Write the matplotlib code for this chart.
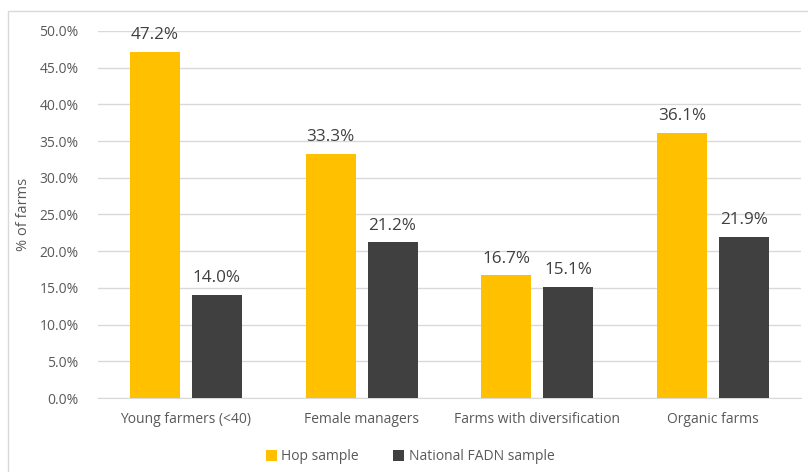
import numpy as np
import matplotlib
matplotlib.use("Agg")
import matplotlib.pyplot as plt
from matplotlib.patches import Rectangle

plt.rcParams["font.family"] = ["Open Sans", "DejaVu Sans"]

categories = ["Young farmers (<40)", "Female managers",
              "Farms with diversification", "Organic farms"]
hop_sample = [47.2, 33.3, 16.7, 36.1]
fadn_sample = [14.0, 21.2, 15.1, 21.9]
series_names = ["Hop sample", "National FADN sample"]
yticks = [0, 5, 10, 15, 20, 25, 30, 35, 40, 45, 50]

HOP = "#FFC000"
FADN = "#404040"
TXT = "#595959"

fig = plt.figure(figsize=(8.08, 4.72), dpi=100)
ax = fig.add_axes([98 / 808, 1 - 398 / 472, 703 / 808, 367 / 472])

x = np.arange(len(categories))
w = 0.285
off = 0.176
b1 = ax.bar(x - off, hop_sample, w, color=HOP, label=series_names[0], zorder=3)
b2 = ax.bar(x + off, fadn_sample, w, color=FADN, label=series_names[1], zorder=3)

for bars, vals in ((b1, hop_sample), (b2, fadn_sample)):
    for r, v in zip(bars, vals):
        ax.text(r.get_x() + r.get_width() / 2, v + 1.2, f"{v:.1f}%",
                ha="center", va="bottom", fontsize=12.3, color=FADN)

ax.set_xlim(-0.5, len(categories) - 0.5)
ax.set_ylim(0, 50)
ax.set_yticks(yticks)
ax.set_yticklabels([f"{t:.1f}%" for t in yticks])
ax.set_xticks(x)
ax.set_xticklabels(categories)
ax.tick_params(axis="both", length=0, colors=TXT, labelsize=10)
ax.tick_params(axis="x", pad=10)
ax.tick_params(axis="y", pad=14)
ax.grid(axis="y", color="#D9D9D9", linewidth=1, zorder=0)
for s in ["top", "right", "left"]:
    ax.spines[s].set_visible(False)
ax.spines["bottom"].set_color("#D9D9D9")
ax.set_ylabel("% of farms", color=TXT, fontsize=10.5, labelpad=6)

leg = fig.legend(loc="center", bbox_to_anchor=(410 / 808, 1 - 457 / 472),
                 ncol=2, frameon=False, fontsize=10, handlelength=0.8,
                 handleheight=0.8, handletextpad=0.3, columnspacing=2.5)
for t in leg.get_texts():
    t.set_color(TXT)

# outer chart border
fig.patches.append(Rectangle((8 / 808, -0.01), 1.0, 1 - 11 / 472 + 0.01,
                             transform=fig.transFigure, fill=False,
                             edgecolor="#D9D9D9", linewidth=1))

fig.savefig("out.png", dpi=100)
